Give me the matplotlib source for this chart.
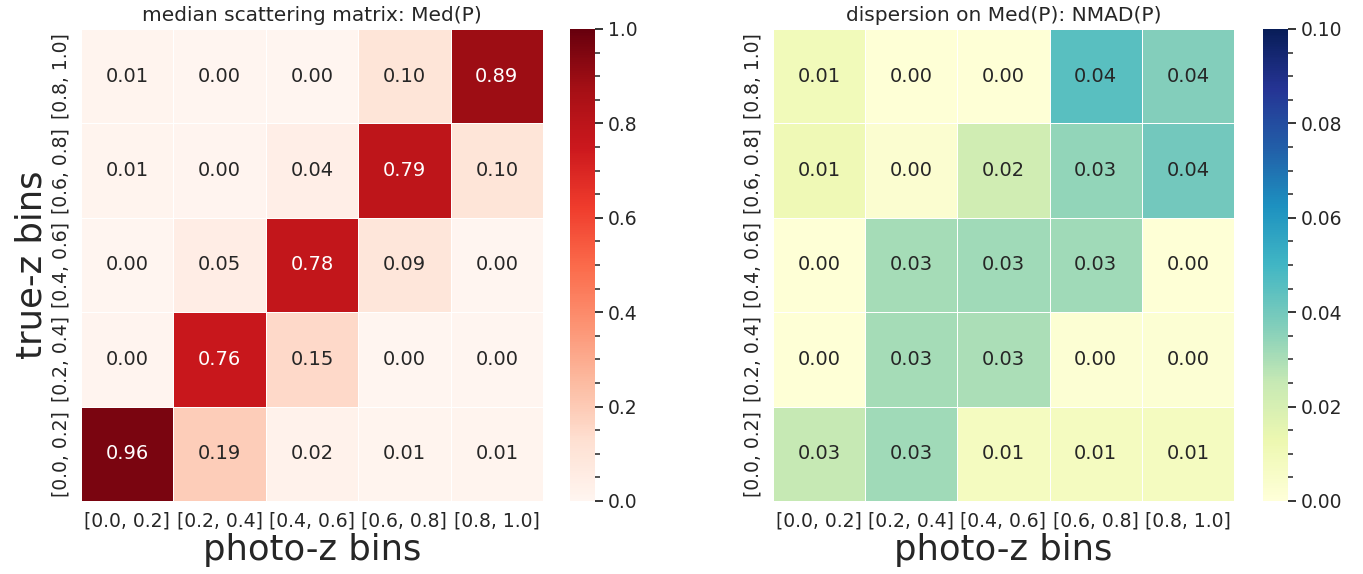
import matplotlib
matplotlib.use("Agg")
import matplotlib.pyplot as plt
from matplotlib.ticker import AutoMinorLocator
import numpy as np
import seaborn as sns

sns.set_theme(style="white")
plt.rcParams['font.family'] = ['DejaVu Sans']

bins = ['[0.0, 0.2]', '[0.2, 0.4]', '[0.4, 0.6]', '[0.6, 0.8]', '[0.8, 1.0]']

# rows: true-z bin (low -> high), columns: photo-z bin
med_p = [
    [0.96, 0.19, 0.02, 0.01, 0.01],
    [0.004, 0.76, 0.15, 0.003, 0.002],
    [0.003, 0.05, 0.78, 0.09, 0.003],
    [0.01, 0.004, 0.04, 0.79, 0.10],
    [0.01, 0.003, 0.002, 0.10, 0.89],
]

nmad_p = [
    [0.025, 0.032, 0.008, 0.008, 0.008],
    [0.001, 0.031, 0.030, 0.002, 0.002],
    [0.001, 0.031, 0.032, 0.032, 0.001],
    [0.011, 0.003, 0.022, 0.034, 0.040],
    [0.010, 0.001, 0.001, 0.045, 0.037],
]

fig = plt.figure(figsize=(13.63, 5.74), dpi=100)
ax1 = fig.add_axes([0.0594, 0.1272, 0.3390, 0.8223])
cax1 = fig.add_axes([0.4182, 0.1272, 0.0183, 0.8223])
ax2 = fig.add_axes([0.5671, 0.1272, 0.3382, 0.8223])
cax2 = fig.add_axes([0.9266, 0.1272, 0.0183, 0.8223])


def draw(ax, cax, data, cmap, vmax, title, ylabel):
    sns.heatmap(np.array(data), ax=ax, cbar_ax=cax, cmap=cmap, vmin=0, vmax=vmax,
                annot=True, fmt='.2f', annot_kws={'size': 14},
                linewidths=0.6, linecolor='white',
                xticklabels=bins, yticklabels=bins)
    ax.invert_yaxis()
    ax.set_title(title, fontsize=14.5)
    ax.set_xlabel('photo-z bins', fontsize=25.5, labelpad=2)
    if ylabel:
        ax.set_ylabel('true-z bins', fontsize=25.5, labelpad=2)
    ax.tick_params(axis='both', length=0, pad=7.5, labelsize=13.5)
    plt.setp(ax.get_xticklabels(), rotation=0)
    plt.setp(ax.get_yticklabels(), rotation=90, va='center')

    cax.yaxis.set_minor_locator(AutoMinorLocator(4))
    cax.tick_params(which='major', right=True, length=6, width=1.3, labelsize=13.5, color='#262626')
    cax.tick_params(which='minor', right=True, length=3.5, width=1.1, color='#262626')


draw(ax1, cax1, med_p, 'Reds', 1.0, 'median scattering matrix: Med(P)', True)
draw(ax2, cax2, nmad_p, 'YlGnBu', 0.1, 'dispersion on Med(P): NMAD(P)', False)

fig.savefig('out.png', dpi=100)
